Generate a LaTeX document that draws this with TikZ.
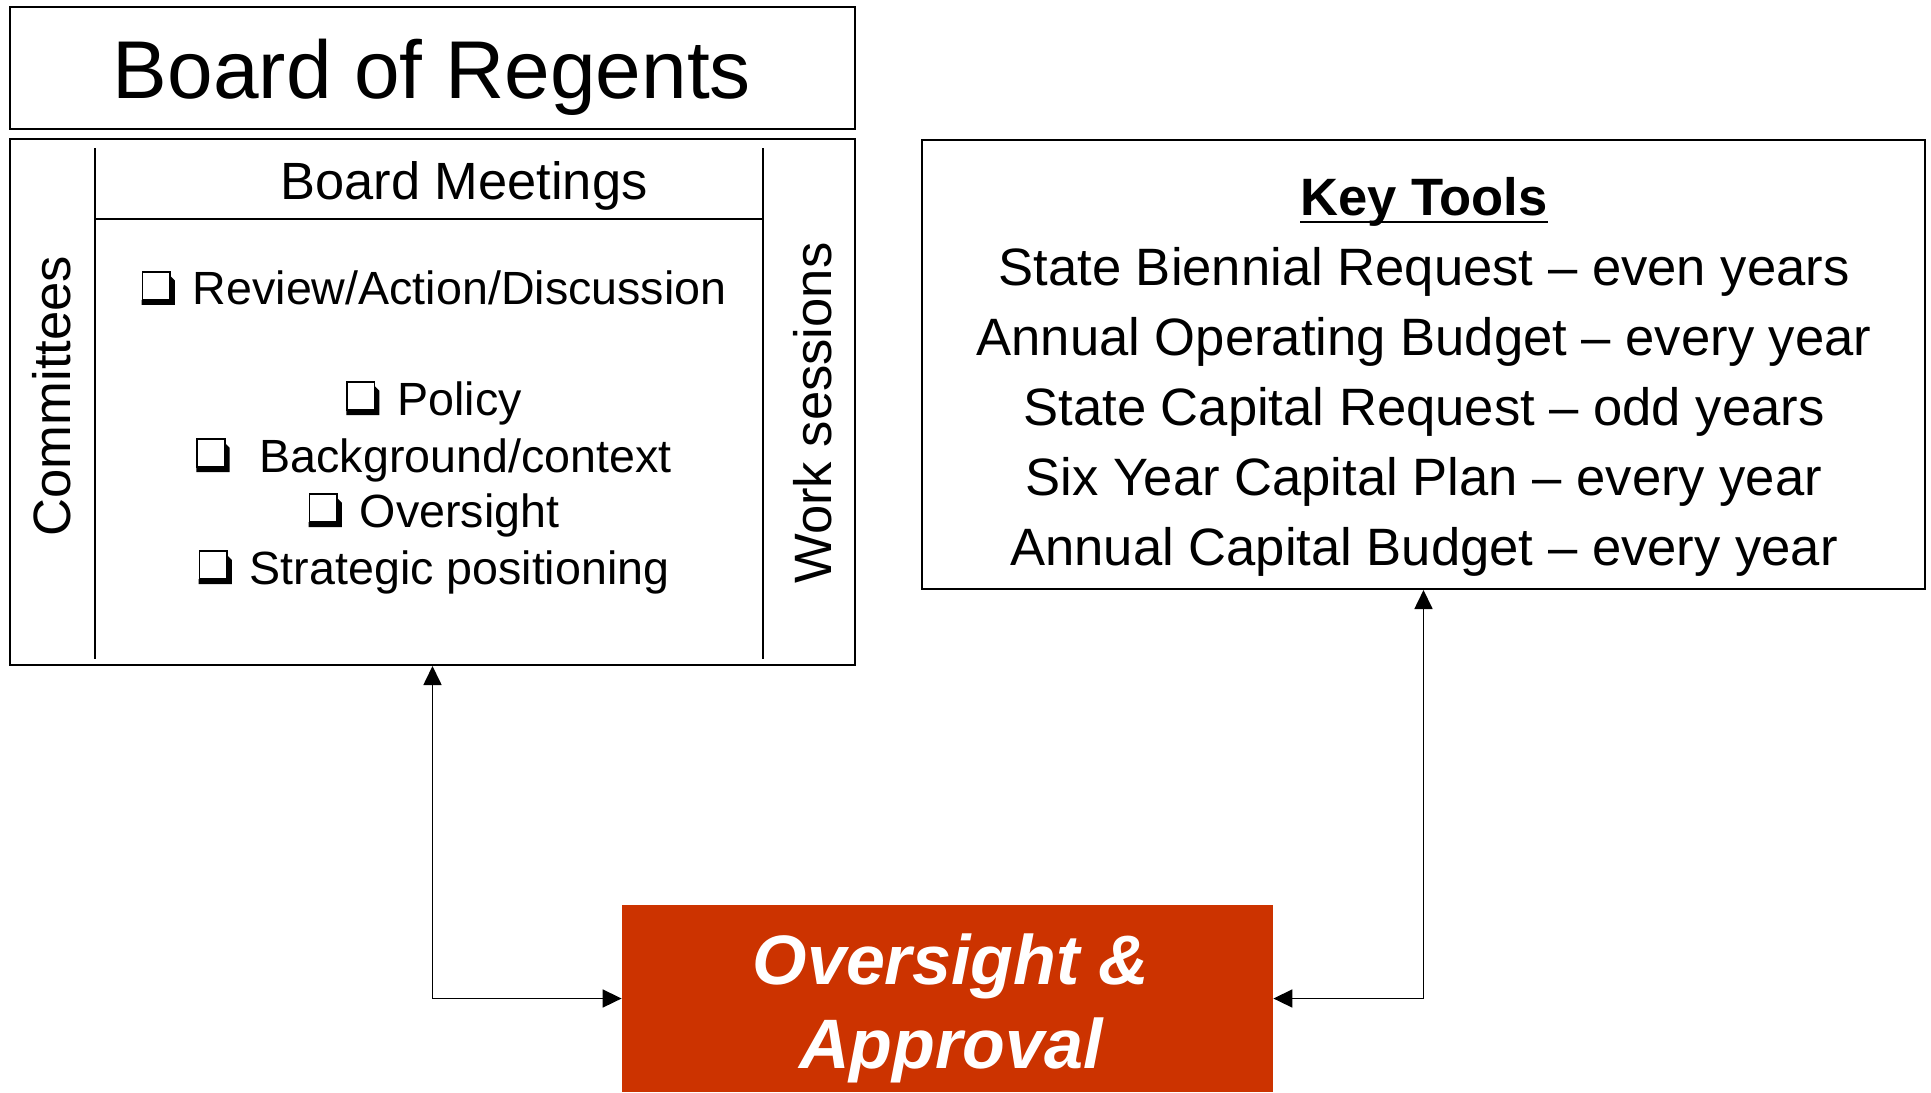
\documentclass[tikz,border=0pt]{standalone}
\usepackage{fontspec}
\setmainfont{Liberation Sans}
\usetikzlibrary{arrows.meta}
\definecolor{ovred}{HTML}{CC3300}
\newcommand{\cbx}{\tikz[x=1pt,y=1pt,baseline=0pt]{%
  \fill[black] (0,0) -- (16.6,0) -- (16.6,12.2) -- (14.1,14.7) -- (14.1,2.5) -- (0,2.5) -- cycle;
  \draw[black,line width=0.9pt,fill=white] (0.45,2.5) rectangle (14.1,16.6);}}
\newcommand{\ulbar}[1]{\setbox0\hbox{#1}\rlap{\rule[-3.5pt]{\wd0}{1pt}}\box0}
\begin{document}
\begin{tikzpicture}[x=0.5pt,y=-0.5pt,
  frame/.style={draw=black,line width=1pt,fill=white,inner sep=0pt},
  divider/.style={draw=black,line width=0.8pt},
  itemtxt/.style={font=\fontsize{23.3}{28}\selectfont,inner sep=0pt},
  sidetxt/.style={font=\fontsize{26.3}{32}\selectfont,rotate=90,inner sep=0pt},
  conn/.style={draw=black,line width=0.85pt,{Triangle[length=9.5pt,width=9pt]}-{Triangle[length=9.5pt,width=9pt]}}]
\useasboundingbox (0,0) rectangle (1931,1092);
% Board of Regents header
\node[frame,minimum width=422.5pt,minimum height=61pt] (bor) at (432.5,68) {};
\node[font=\fontsize{41}{48}\selectfont,inner sep=0pt] (bort) at (432,77) {Board of Regents};
% big box
\node[frame,minimum width=422.5pt,minimum height=263pt] (big) at (432.5,402) {};
\coordinate (lt) at (95,148);
\coordinate (lb) at (95,659);
\coordinate (rt) at (763,148);
\coordinate (rb) at (763,659);
\coordinate (hl) at (95,219);
\coordinate (hr) at (763,219);
\draw[divider] (lt) -- (lb);
\draw[divider] (rt) -- (rb);
\draw[divider] (hl) -- (hr);
\node[font=\fontsize{26.2}{32}\selectfont,inner sep=0pt] (bm) at (464,186) {Board Meetings};
\node[sidetxt] (com) at (52,396) {Committees};
\node[sidetxt] (ws) at (813,413) {Work sessions};
\node[itemtxt] (i1) at (434,288) {\cbx\hspace{9pt}Review/Action/Discussion};
\node[itemtxt] (i2) at (434,403) {\cbx\hspace{9pt}Policy};
\node[itemtxt] (i3) at (434,460) {\cbx\hspace{15pt}Background/context};
\node[itemtxt] (i4) at (434,515) {\cbx\hspace{9pt}Oversight};
\node[itemtxt] (i5) at (434,572) {\cbx\hspace{9pt}Strategic positioning};
% Key tools
\node[frame,minimum width=501.5pt,minimum height=224.5pt] (kt) at (1423.5,364.5) {};
\node[font=\fontsize{26.3}{35}\selectfont,align=center,inner sep=0pt] (ktt) at (1424,377)
  {\textbf{\ulbar{Key Tools}}\\
   State Biennial Request – even years\\
   Annual Operating Budget – every year\\
   State Capital Request – odd years\\
   Six Year Capital Plan – every year\\
   Annual Capital Budget – every year};
% Oversight & Approval
\node[fill=ovred,minimum width=325.5pt,minimum height=93.5pt,inner sep=0pt] (ov) at (947.5,998.5) {};
\node[font=\fontsize{35}{42}\selectfont\bfseries\itshape,text=white,align=center,inner sep=0pt] (ovt) at (951,1008)
  {Oversight \&\\Approval};
% connectors
\draw[conn] (big.south) |- (ov.west);
\draw[conn] (kt.south) |- (ov.east);
\end{tikzpicture}
\end{document}
